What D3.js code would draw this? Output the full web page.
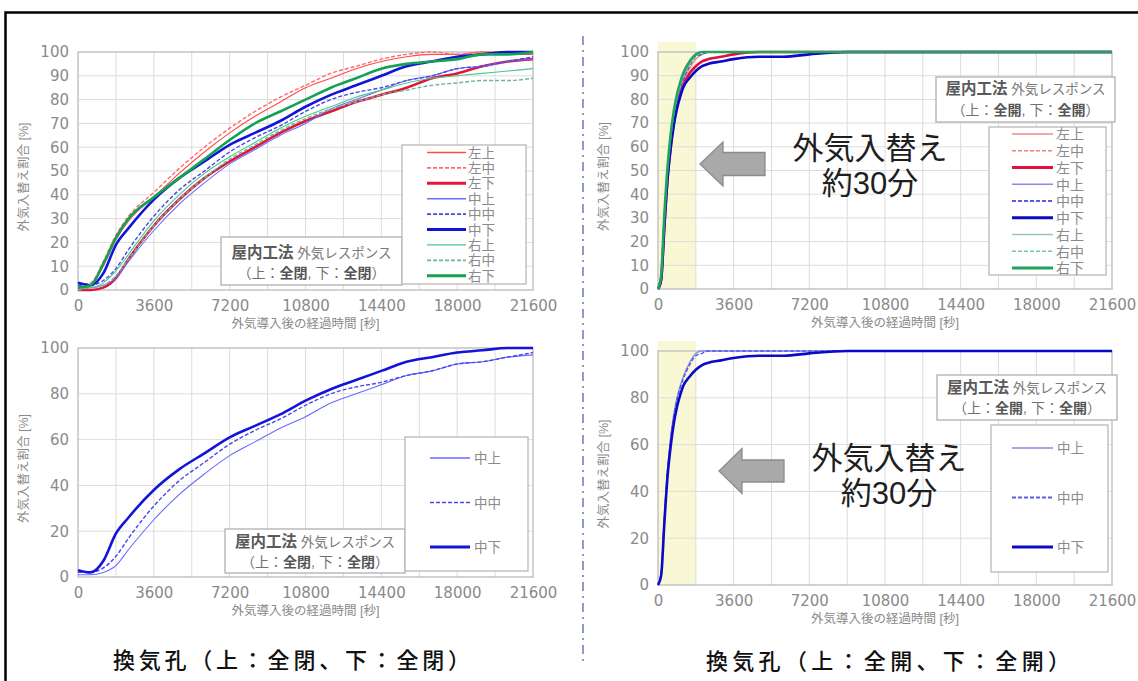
<!DOCTYPE html>
<html><head><meta charset="utf-8">
<script src="https://cdn.jsdelivr.net/npm/d3@7"></script>
<style>body{margin:0;background:#fff}svg{display:block}</style>
</head><body>
<svg id="c" width="1138" height="681"></svg>
<script>
// ---------- DATA ----------
const seriesNames = ["左上","左中","左下","中上","中中","中下","右上","右中","右下"];
const middleNames = ["中上","中中","中下"];
const xTickValues = [0,3600,7200,10800,14400,18000,21600];
const yTicks10 = [0,10,20,30,40,50,60,70,80,90,100];
const yTicks20 = [0,20,40,60,80,100];

// 換気孔 全閉 (left panels) — time [s]
const timesClosed = [0,600,1200,1800,2400,3600,4800,6000,7200,8400,9600,10800,12000,13200,14400,15600,16800,18000,19200,20400,21600];
const closedLeftTop    = [1,2,10,21,29,39,49,58,66,73,79,85,89,93,96,98,99,99,100,99,99];
const closedLeftMid    = [2,3,12,23,31,41,51,60,68,75,81,86,91,94,97,99,100,99,100,100,100];
const closedLeftBot    = [0,0,1,5,13,27,38,47,54,60,66,71,75,79,82,85,89,91,94,96,97];
const closedMidTop     = [1,1,2,5,12,25,36,45,53,59,65,70,76,80,84,88,90,93,94,96,97];
const closedMidMid     = [2,2,4,9,17,31,42,50,58,64,69,75,80,83,85,88,90,93,94,96,98];
const closedMidBot     = [3,2,7,19,26,38,47,54,61,66,71,77,82,86,90,94,96,98,99,100,100];
const closedRightTop   = [1,1,3,8,15,29,40,49,56,62,68,73,77,81,84,87,89,90,91,92,93];
const closedRightMid   = [0,1,2,6,13,27,38,47,55,61,67,72,76,79,82,84,86,87,88,88,89];
const closedRightBot   = [1,2,11,22,30,39,47,55,63,70,75,80,85,89,93,95,96,97,99,99,100];

// 換気孔 全開 (right panels) — time [s]
const timesOpen = [0,150,300,450,600,750,900,1050,1200,1500,1800,2100,2400,3000,3600,4800,6000,7200,9000,21600];
const openLeftTop  = [0,5,28,48,62,72,79,84,88,93,97,99,100,100,100,100,100,100,100,100];
const openLeftMid  = [0,5,29,49,63,73,80,85,89,94,98,99,100,100,100,100,100,100,100,100];
const openLeftBot  = [0,4,26,46,60,70,77,82,86,91,94,96,97,98,99,100,100,100,100,100];
const openMidTop   = [0,5,29,49,63,73,80,85,89,95,99,100,100,100,100,100,100,100,100,100];
const openMidMid   = [0,5,28,48,62,72,79,84,88,94,98,99,100,100,100,100,100,100,100,100];
const openMidBot   = [0,4,26,46,59,69,76,81,85,89,92,94,95,96,97,98,98,99,100,100];
const openRightTop = [0,6,30,50,64,74,81,86,90,95,99,100,100,100,100,100,100,100,100,100];
const openRightMid = [0,6,30,50,64,74,81,86,90,95,98,100,100,100,100,100,100,100,100,100];
const openRightBot = [0,6,31,51,65,75,82,87,91,96,99,100,100,100,100,100,100,100,100,100];

const closedSeries = [closedLeftTop,closedLeftMid,closedLeftBot,closedMidTop,closedMidMid,closedMidBot,closedRightTop,closedRightMid,closedRightBot];
const openSeries = [openLeftTop,openLeftMid,openLeftBot,openMidTop,openMidMid,openMidBot,openRightTop,openRightMid,openRightBot];

// ---------- STYLES ----------
const stylesA = {
  "左上":{c:"#ff4a4a",w:1.1,d:null}, "左中":{c:"#ff6a6a",w:1.4,d:"4,2"}, "左下":{c:"#e0163c",w:2.6,d:null},
  "中上":{c:"#6a6aff",w:1.1,d:null}, "中中":{c:"#4848e8",w:1.4,d:"4,2"}, "中下":{c:"#1414d8",w:2.6,d:null},
  "右上":{c:"#48c88a",w:1.1,d:null}, "右中":{c:"#6ab896",w:1.4,d:"4,2"}, "右下":{c:"#12a254",w:2.6,d:null}
};
const stylesB = {
  "左上":{c:"#f08a8a",w:1.3,d:null}, "左中":{c:"#f08080",w:1.3,d:"4,2"}, "左下":{c:"#e0103a",w:2.6,d:null},
  "中上":{c:"#8a8ae6",w:1.3,d:null}, "中中":{c:"#5a5ae6",w:1.5,d:"4,2"}, "中下":{c:"#0a0ac8",w:2.6,d:null},
  "右上":{c:"#98c8b0",w:1.3,d:null}, "右中":{c:"#78c8a8",w:1.4,d:"4,2"}, "右下":{c:"#22a55a",w:2.6,d:null}
};

const svg = d3.select("#c");
const TICKFONT = "'DejaVu Sans', sans-serif";
const JP = "'Noto Sans CJK JP', sans-serif";
const JPT = "'Liberation Sans', 'Noto Sans CJK JP', sans-serif";

function panel(o){
  const g = svg.append("g");
  const x = d3.scaleLinear().domain([0,21600]).range([o.x0,o.x1]);
  const y = d3.scaleLinear().domain([0,100]).range([o.y1,o.y0]);
  if(o.shade){
    g.append("rect").attr("x",x(0)).attr("y",o.y0-10).attr("width",x(1800)-x(0)).attr("height",o.y1-o.y0+10)
     .attr("fill","#f8f8d4");
  }
  // grid
  g.append("g").selectAll("line").data(d3.range(1800,21600,1800)).join("line")
   .attr("x1",d=>x(d)).attr("x2",d=>x(d)).attr("y1",o.y0).attr("y2",o.y1)
   .attr("stroke","#dcdcdc").attr("stroke-width",1);
  g.append("g").selectAll("line").data(o.yTicks.slice(1,-1)).join("line")
   .attr("x1",o.x0).attr("x2",o.x1).attr("y1",d=>y(d)).attr("y2",d=>y(d))
   .attr("stroke","#dcdcdc").attr("stroke-width",1);
  g.append("rect").attr("x",o.x0).attr("y",o.y0).attr("width",o.x1-o.x0).attr("height",o.y1-o.y0)
   .attr("fill","none").attr("stroke","#c4c4c4").attr("stroke-width",1.5);
  // axes
  const ax = g.append("g").attr("transform",`translate(0,${o.y1})`)
    .call(d3.axisBottom(x).tickValues(xTickValues).tickSize(0).tickPadding(10).tickFormat(d3.format("d")));
  const ay = g.append("g").attr("transform",`translate(${o.x0},0)`)
    .call(d3.axisLeft(y).tickValues(o.yTicks).tickSize(0).tickPadding(9));
  [ax,ay].forEach(a=>{
    a.select(".domain").remove();
    a.selectAll("text").attr("font-family",TICKFONT).attr("font-size",15).attr("fill","#8a8a8a");
  });
  // axis titles
  g.append("text").attr("x",(o.x0+o.x1)/2).attr("y",o.y1+38).attr("text-anchor","middle")
   .attr("font-family",JPT).attr("font-size",12.5).attr("fill","#8a8a8a").text("外気導入後の経過時間 [秒]");
  g.append("text").attr("transform",`translate(${o.ytx},${(o.y0+o.y1)/2+6}) rotate(-90)`).attr("text-anchor","middle")
   .attr("dy","0.35em").attr("font-family",JPT).attr("font-size",12.5).attr("fill","#8a8a8a").text("外気入替え割合 [%]");
  // lines
  const line = d3.line().x((d,i)=>x(o.times[i])).y(d=>y(d)).curve(d3.curveMonotoneX);
  o.names.forEach((n,k)=>{
    const s = o.styles[n];
    g.append("path").attr("d",line(o.series[k])).attr("fill","none")
     .attr("stroke",s.c).attr("stroke-width",s.w).attr("stroke-dasharray",s.d)
     .attr("stroke-linejoin","round");
  });
  // info box
  const ib = o.info;
  g.append("rect").attr("x",ib.x).attr("y",ib.y).attr("width",ib.w).attr("height",ib.h)
   .attr("fill","#fff").attr("stroke","#b0b0b0").attr("stroke-width",1.3);
  const cx = ib.x+ib.w/2;
  const t1 = g.append("text").attr("x",cx).attr("y",ib.l1+5).attr("text-anchor","middle").attr("font-family",JPT);
  t1.append("tspan").attr("font-size",15.5).attr("font-weight","bold").attr("fill","#5a5a5a").text("屋内工法");
  t1.append("tspan").attr("font-size",13.5).attr("fill","#7a7a7a").text(" 外気レスポンス");
  const t2 = g.append("text").attr("x",cx).attr("y",ib.l2+5).attr("text-anchor","middle").attr("font-family",JPT)
   .attr("font-size",14).attr("fill","#707070");
  t2.append("tspan").text("（上：");
  t2.append("tspan").attr("font-weight","bold").attr("fill","#555").text(o.state);
  t2.append("tspan").text(", 下：");
  t2.append("tspan").attr("font-weight","bold").attr("fill","#555").text(o.state);
  t2.append("tspan").text("）");
  // legend
  const L = o.legend;
  g.append("rect").attr("x",L.x).attr("y",L.y).attr("width",L.w).attr("height",L.h)
   .attr("fill","#fff").attr("stroke","#b8b8b8").attr("stroke-width",1.3);
  o.names.forEach((n,k)=>{
    const s = o.styles[n]; const yy = L.ey0 + k*L.step;
    g.append("line").attr("x1",L.lx1).attr("x2",L.lx2).attr("y1",yy).attr("y2",yy)
     .attr("stroke",s.c).attr("stroke-width",s.w+0.3).attr("stroke-dasharray",s.d);
    g.append("text").attr("x",L.tx).attr("y",yy+L.fs*0.38).attr("font-family",JPT)
     .attr("font-size",L.fs).attr("fill","#8a8a8a").text(n);
  });
  // annotation
  if(o.note){
    const a = o.note;
    g.append("path").attr("d",`M${a.tip},${a.ay} L${a.hx},${a.ay-a.hh} L${a.hx},${a.ay-a.sh} L${a.tail},${a.ay-a.sh} L${a.tail},${a.ay+a.sh} L${a.hx},${a.ay+a.sh} L${a.hx},${a.ay+a.hh} Z`)
     .attr("fill","#a9a9a9").attr("stroke","#8c8c8c").attr("stroke-width",1.3);
    g.append("text").attr("x",a.tx).attr("y",a.ty1+11).attr("text-anchor","middle")
     .attr("font-family",JPT).attr("font-size",31).attr("fill","#1e1e1e").text("外気入替え");
    g.append("text").attr("x",a.tx).attr("y",a.ty2+11).attr("text-anchor","middle")
     .attr("font-family",JPT).attr("font-size",31).attr("fill","#1e1e1e").text("約30分");
  }
}

const midIdx = [3,4,5];

panel({x0:78,x1:533,y0:52,y1:290,yTicks:yTicks10,ytx:24,times:timesClosed,names:seriesNames,series:closedSeries,styles:stylesA,state:"全閉",
  info:{x:221,y:237,w:181,h:48,l1:253,l2:273},
  legend:{x:402,y:145,w:124,h:139,ey0:152.5,step:15.4,lx1:427,lx2:466,tx:468,fs:13.5}});
panel({x0:78,x1:533,y0:348,y1:577,yTicks:yTicks20,ytx:24,times:timesClosed,names:middleNames,series:midIdx.map(i=>closedSeries[i]),styles:stylesA,state:"全閉",
  info:{x:225,y:529,w:180,h:44,l1:542,l2:562},
  legend:{x:405,y:437,w:123,h:134,ey0:458,step:44.5,lx1:430,lx2:470,tx:474,fs:13.5}});
panel({x0:658,x1:1112,y0:52,y1:289,yTicks:yTicks10,ytx:604,times:timesOpen,names:seriesNames,series:openSeries,styles:stylesB,state:"全開",shade:true,
  info:{x:936,y:77,w:179,h:45,l1:89,l2:110},
  legend:{x:989,y:127,w:117,h:148,ey0:134,step:16.75,lx1:1012,lx2:1053,tx:1056,fs:14},
  note:{tip:700,hx:723,tail:765,ay:164,hh:22,sh:11.5,tx:870,ty1:148,ty2:183}});
panel({x0:658,x1:1112,y0:351,y1:585,yTicks:yTicks20,ytx:604,times:timesOpen,names:middleNames,series:midIdx.map(i=>openSeries[i]),styles:stylesB,state:"全開",shade:true,
  info:{x:937,y:375,w:180,h:45,l1:388,l2:408},
  legend:{x:991,y:425,w:117,h:147,ey0:448,step:49.5,lx1:1012,lx2:1053,tx:1057,fs:13.5},
  note:{tip:719,hx:742,tail:784,ay:471,hh:22.5,sh:11,tx:889,ty1:458,ty2:493}});

// frame and separator
svg.append("path").attr("d","M5.5,681 V12.5 H1138").attr("fill","none").attr("stroke","#000").attr("stroke-width",2.5);
svg.append("line").attr("x1",583).attr("x2",583).attr("y1",36).attr("y2",666)
  .attr("stroke","#7282c4").attr("stroke-width",1.6).attr("stroke-dasharray","9,5,2,5");
// captions
svg.append("text").attr("x",113).attr("y",660).attr("dy","0.36em").attr("textLength",357).attr("lengthAdjust","spacing")
  .attr("font-family",JP).attr("font-size",22).attr("font-weight",500).attr("fill","#111").text("換気孔（上：全閉、下：全閉）");
svg.append("text").attr("x",706).attr("y",661).attr("dy","0.36em").attr("textLength",364).attr("lengthAdjust","spacing")
  .attr("font-family",JP).attr("font-size",22).attr("font-weight",500).attr("fill","#111").text("換気孔（上：全開、下：全開）");
</script>
</body></html>
